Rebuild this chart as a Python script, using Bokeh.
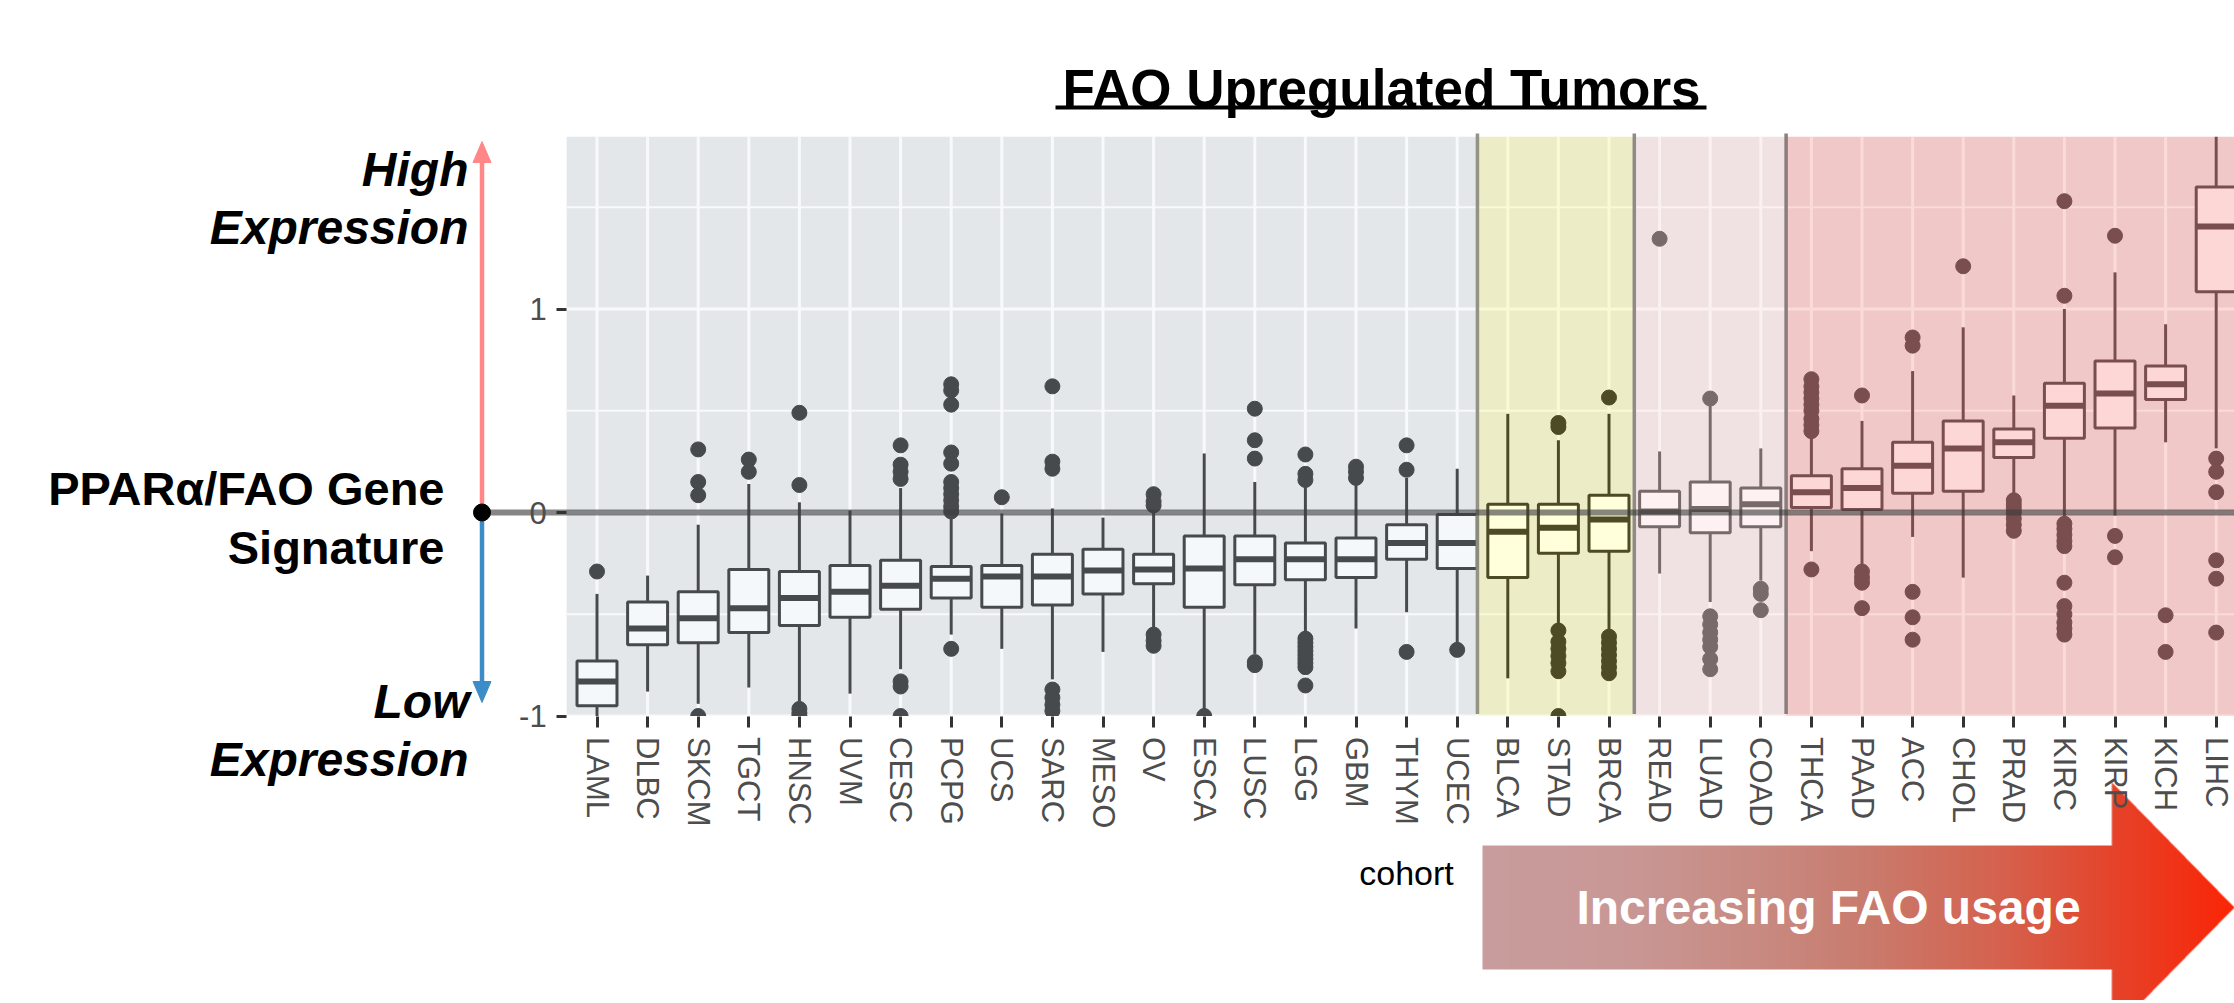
import numpy as np
from bokeh.plotting import figure
from bokeh.models import Range1d, LinearAxis, FixedTicker, ColumnDataSource
from bokeh.core.properties import value
from bokeh.embed import file_html
from bokeh.resources import INLINE

# ---------------- data ----------------
cohorts = ["LAML", "DLBC", "SKCM", "TGCT", "HNSC", "UVM", "CESC", "PCPG", "UCS",
           "SARC", "MESO", "OV", "ESCA", "LUSC", "LGG", "GBM", "THYM", "UCEC",
           "BLCA", "STAD", "BRCA", "READ", "LUAD", "COAD",
           "THCA", "PAAD", "ACC", "CHOL", "PRAD", "KIRC", "KIRP", "KICH", "LIHC"]
region = [0] * 18 + [1] * 3 + [2] * 3 + [3] * 9

q1 = [-0.95, -0.65, -0.64, -0.59, -0.555, -0.515, -0.475, -0.42, -0.465, -0.455,
      -0.40, -0.35, -0.465, -0.355, -0.33, -0.32, -0.23, -0.275,
      -0.32, -0.20, -0.19, -0.07, -0.10, -0.07,
      0.025, 0.015, 0.095, 0.105, 0.27, 0.365, 0.415, 0.555, 1.085]
median = [-0.83, -0.57, -0.52, -0.47, -0.42, -0.39, -0.36, -0.325, -0.315, -0.315,
          -0.285, -0.28, -0.275, -0.23, -0.23, -0.23, -0.15, -0.15,
          -0.095, -0.075, -0.035, 0.005, 0.017, 0.04,
          0.10, 0.12, 0.23, 0.315, 0.345, 0.525, 0.585, 0.63, 1.405]
q3 = [-0.73, -0.44, -0.39, -0.28, -0.29, -0.26, -0.235, -0.265, -0.26, -0.205,
      -0.18, -0.205, -0.115, -0.115, -0.15, -0.125, -0.06, -0.01,
      0.04, 0.04, 0.085, 0.105, 0.15, 0.12,
      0.18, 0.215, 0.345, 0.45, 0.41, 0.635, 0.745, 0.72, 1.60]
whisker_lo = [-1.10, -0.88, -0.94, -0.86, -0.93, -0.89, -0.77, -0.60, -0.67, -0.82,
              -0.685, -0.57, -0.98, -0.695, -0.60, -0.57, -0.49, -0.64,
              -0.815, -0.55, -0.59, -0.30, -0.44, -0.335,
              -0.19, -0.26, -0.12, -0.32, 0.08, -0.035, -0.015, 0.345, 0.315]
whisker_hi = [-0.40, -0.31, -0.06, 0.14, 0.05, 0.01, 0.12, -0.025, -0.005, 0.02,
              -0.025, 0.005, 0.29, 0.15, 0.13, 0.135, 0.17, 0.215,
              0.485, 0.355, 0.485, 0.30, 0.53, 0.315,
              0.37, 0.45, 0.695, 0.91, 0.575, 1.00, 1.18, 0.925, 2.10]
outliers = [
    [-0.29],
    [],
    [0.31, 0.15, 0.085, -1.0],
    [0.26, 0.20],
    [0.49, 0.135, -0.965, -0.985, -1.0],
    [],
    [0.33, 0.235, 0.20, 0.165, -0.83, -0.855, -1.0],
    [0.63, 0.60, 0.53, 0.295, 0.24, 0.15, 0.12, 0.09, 0.06, 0.03, 0.005, -0.67],
    [0.075],
    [0.62, 0.25, 0.215, -0.87, -0.91, -0.945, -0.975],
    [],
    [0.09, 0.055, 0.035, -0.60, -0.63, -0.655],
    [-1.0],
    [0.51, 0.355, 0.265, -0.735, -0.75],
    [0.285, 0.19, 0.16, -0.62, -0.64, -0.66, -0.68, -0.70, -0.72, -0.74, -0.76, -0.85],
    [0.225, 0.20, 0.17],
    [0.33, 0.21, -0.685],
    [-0.675],
    [],
    [0.44, 0.42, -0.58, -0.635, -0.67, -0.705, -0.74, -0.78, -1.0],
    [0.565, -0.61, -0.64, -0.67, -0.70, -0.73, -0.76, -0.79],
    [1.345],
    [0.56, -0.51, -0.55, -0.59, -0.625, -0.66, -0.72, -0.77],
    [-0.375, -0.40, -0.48],
    [0.655, 0.62, 0.59, 0.56, 0.53, 0.50, 0.46, 0.43, 0.40, -0.28],
    [0.575, -0.29, -0.32, -0.345, -0.47],
    [0.86, 0.82, -0.39, -0.515, -0.625],
    [1.21],
    [0.06, 0.04, 0.02, 0.0, -0.03, -0.06, -0.09],
    [1.53, 1.065, -0.055, -0.08, -0.11, -0.14, -0.165, -0.345, -0.46, -0.50, -0.54, -0.57, -0.60],
    [1.36, -0.115, -0.22],
    [-0.505, -0.685],
    [0.265, 0.20, 0.10, -0.235, -0.325, -0.59],
]
y_major = [-1, 0, 1]
y_major_labels = ["-1", "0", "1"]
y_minor = [-0.5, 0.5, 1.5]
y_limits = (-1.0, 1.848)

n = len(cohorts)
assert all(len(a) == n for a in (region, q1, median, q3, whisker_lo, whisker_hi, outliers))

# ---------------- styles ----------------
REGION_BG = ["#E4E7EA", "#ECECC6", "#F0E2E2", "#F0C8C8"]
REGION_GRID = ["#F7F9FB", "#FAFAD6", "#FBF1F1", "#FBDADA"]
REGION_FILL = ["#F5F8FB", "#FFFFDC", "#FEF1F1", "#FDD6D6"]
REGION_LINE = ["#474A4D", "#4D4A26", "#786A6A", "#7A4E4E"]
REGION_EDGE = [None, "#8E8E80", "#8C8484", "#857878"]
REGION_SHIFT = [-0.6, -0.6, -0.5, -0.5]
FONT = value("Liberation Sans")

W, H = 2234, 1000
SX, SY = 50.6, 203.5       # pixels per category / per unit
X0, Y0 = 596.5, 512.0      # pixel position of first category / of zero
BASE_FIX = 0.22            # baseline correction (fraction of font size)


def X(px):
    return (px - X0) / SX


def Y(py):
    return (Y0 - py) / SY


def TY(baseline_px, size):
    return Y(baseline_px - BASE_FIX * size)


p = figure(width=W, height=H,
           x_range=Range1d(X(0), X(W)), y_range=Range1d(Y(H), Y(0)),
           x_axis_type=None, y_axis_type=None, toolbar_location=None,
           output_backend="svg", min_border=0, outline_line_color=None,
           background_fill_color="white", border_fill_color="white")

# ---------------- panel backgrounds and grid ----------------
xs = np.arange(n)
reg = np.array(region)
panel_right = n - 1 + 0.6
lefts, rights = [], []
for r in range(4):
    idx = np.where(reg == r)[0]
    lefts.append(idx[0] + REGION_SHIFT[r])
for r in range(4):
    rights.append(lefts[r + 1] if r < 3 else panel_right)

p.quad(left=lefts, right=rights, bottom=y_limits[0], top=y_limits[1],
       fill_color=REGION_BG, line_color=None, level="underlay")

for r in range(4):
    p.segment(x0=[lefts[r]] * len(y_minor), x1=[rights[r]] * len(y_minor),
              y0=y_minor, y1=y_minor, line_color=REGION_GRID[r], line_width=1.8,
              level="underlay")
    p.segment(x0=[lefts[r]] * len(y_major), x1=[rights[r]] * len(y_major),
              y0=y_major, y1=y_major, line_color=REGION_GRID[r], line_width=3,
              level="underlay")
p.segment(x0=xs, x1=xs, y0=[y_limits[0]] * n, y1=[y_limits[1]] * n,
          line_color=[REGION_GRID[r] for r in region], line_width=3, level="underlay")

# ---------------- boxplots ----------------
hw = 0.395
src = ColumnDataSource(dict(
    x=xs, left=xs - hw, right=xs + hw,
    q1=q1, med=median, q3=q3,
    lo=np.maximum(whisker_lo, y_limits[0]), hi=np.minimum(whisker_hi, y_limits[1]),
    fill=[REGION_FILL[r] for r in region], line=[REGION_LINE[r] for r in region]))
p.segment(x0="x", x1="x", y0="q3", y1="hi", source=src, line_color="line",
          line_width=3, level="underlay")
p.segment(x0="x", x1="x", y0="q1", y1="lo", source=src, line_color="line",
          line_width=3, level="underlay")
p.quad(left="left", right="right", bottom="q1", top="q3", source=src,
       fill_color="fill", line_color="line", line_width=3, level="underlay")
p.segment(x0="left", x1="right", y0="med", y1="med", source=src,
          line_color="line", line_width=6, level="underlay")

ox, oy, oc = [], [], []
for i, vals in enumerate(outliers):
    for v in vals:
        ox.append(i)
        oy.append(v)
        oc.append(REGION_LINE[region[i]])
p.scatter(x=ox, y=oy, size=15, fill_color=oc, line_color=oc, level="underlay")

# white covers emulate clipping at the panel limits
p.quad(left=[X(555), X(555)], right=[X(2240), X(2240)],
       bottom=[y_limits[0] - 30 / SY, y_limits[1]],
       top=[y_limits[0], y_limits[1] + 22 / SY],
       fill_color="white", line_color=None, level="glyph")

# region boundary lines
p.segment(x0=lefts[1:], x1=lefts[1:], y0=[y_limits[0] + 2 / SY] * 3,
          y1=[Y(133)] * 3, line_color=REGION_EDGE[1:], line_width=3.5, line_alpha=0.95)

# zero reference line
xa = X(481.5)
p.segment(x0=[xa], x1=[X(2240)], y0=[0], y1=[0], line_color="#3C3C3C",
          line_alpha=0.62, line_width=6)

# ---------------- left expression arrow ----------------
p.segment(x0=[xa], x1=[xa], y0=[0], y1=[Y(158)], line_color="#FF8787", line_width=4.5)
p.patch(x=[xa - 9 / SX, xa, xa + 9 / SX], y=[Y(162), Y(141), Y(162)],
        fill_color="#FF8787", line_color="#FF8787")
p.segment(x0=[xa], x1=[xa], y0=[0], y1=[Y(684)], line_color="#3C8CC8", line_width=4.5)
p.patch(x=[xa - 9 / SX, xa, xa + 9 / SX], y=[Y(681), Y(702), Y(681)],
        fill_color="#3C8CC8", line_color="#3C8CC8")
p.scatter(x=[xa], y=[0], size=17, fill_color="black", line_color="black")

p.text(x=[X(468), X(468), X(469), X(468)],
       y=[TY(180, 48), TY(238, 48), TY(712, 48), TY(770, 48)],
       text=["High", "Expression", "Low", "Expression"],
       text_font=FONT, text_font_style="bold italic", text_font_size="48px",
       text_color="black", text_align="right", text_baseline="alphabetic")
p.text(x=[X(444), X(444)], y=[TY(498, 47), TY(557, 47)],
       text=["PPARα/FAO Gene", "Signature"],
       text_font=FONT, text_font_style="bold", text_font_size="47px",
       text_color="black", text_align="right", text_baseline="alphabetic")

# ---------------- title ----------------
p.text(x=[X(1381)], y=[TY(100, 53)], text=["FAO Upregulated Tumors"],
       text_font=FONT, text_font_style="bold", text_font_size="53px",
       text_color="black", text_align="center", text_baseline="alphabetic")
p.segment(x0=[X(1055)], x1=[X(1706)], y0=[Y(107)], y1=[Y(107)],
          line_color="black", line_width=4)

# ---------------- axis title ----------------
p.text(x=[X(1406)], y=[TY(880, 34)], text=["cohort"], text_font=FONT,
       text_font_size="34px", text_color="black", text_align="center",
       text_baseline="alphabetic")

# ---------------- gradient arrow (Increasing FAO usage) ----------------
ax0, ax1, ay0, ay1 = 1482, 2234, 782, 1034
body_top, body_bot, head_x, tip_y = 845, 969, 2111.5, 907
wi, hi_ = ax1 - ax0, ay1 - ay0
ss = 3
gx = ax0 + (np.arange(wi * ss) + 0.5) / ss
gy = ay0 + (np.arange(hi_ * ss) + 0.5) / ss
GX, GY = np.meshgrid(gx, gy)
in_body = (GX <= head_x) & (GY >= body_top) & (GY <= body_bot)
half = (ax1 - GX) * (tip_y - ay0) / (ax1 - head_x)
in_head = (GX >= head_x) & (np.abs(GY - tip_y) <= half)
cov = (in_body | in_head).astype(float).reshape(hi_, ss, wi, ss).mean(axis=(1, 3))
stop_x = [1482, 1624, 1769, 1865, 2009, 2105, 2201, 2234]
stop_r = [201, 200, 200, 201, 214, 228, 245, 252]
stop_g = [157, 152, 137, 124, 96, 70, 45, 38]
stop_b = [157, 150, 128, 110, 76, 45, 16, 6]
cx = ax0 + np.arange(wi) + 0.5
img = np.zeros((hi_, wi), dtype=np.uint32)
view = img.view(dtype=np.uint8).reshape((hi_, wi, 4))
view[:, :, 0] = np.interp(cx, stop_x, stop_r)[None, :].astype(np.uint8)
view[:, :, 1] = np.interp(cx, stop_x, stop_g)[None, :].astype(np.uint8)
view[:, :, 2] = np.interp(cx, stop_x, stop_b)[None, :].astype(np.uint8)
view[:, :, 3] = np.round(cov * 255).astype(np.uint8)
img = np.ascontiguousarray(np.flipud(img))
p.image_rgba(image=[img], x=X(ax0), y=Y(ay1), dw=wi / SX, dh=hi_ / SY)
p.text(x=[X(1828)], y=[TY(918, 48)], text=["Increasing FAO usage"], text_font=FONT,
       text_font_style="bold", text_font_size="48px", text_color="white",
       text_align="center", text_baseline="alphabetic")

# ---------------- axes ----------------
xaxis = LinearAxis(fixed_location=y_limits[0],
                   ticker=FixedTicker(ticks=list(range(n)), minor_ticks=[]),
                   major_label_overrides={i: c for i, c in enumerate(cohorts)},
                   major_label_orientation="vertical")
yaxis = LinearAxis(fixed_location=-0.6,
                   ticker=FixedTicker(ticks=y_major, minor_ticks=[]),
                   major_label_overrides={t: s for t, s in zip(y_major, y_major_labels)})
for ax in (xaxis, yaxis):
    ax.axis_line_color = None
    ax.major_tick_line_color = "#333333"
    ax.major_tick_line_width = 3
    ax.major_tick_in = 0
    ax.minor_tick_line_color = None
    ax.major_label_text_font = "Liberation Sans"
    ax.major_label_text_font_size = "31px"
    ax.major_label_text_color = "#4D4D4D"
xaxis.major_tick_out = 11
xaxis.major_label_standoff = 10
yaxis.major_tick_out = 10
yaxis.major_label_standoff = 10
p.add_layout(xaxis, "below")
p.add_layout(yaxis, "left")

open("out.html", "w").write(file_html(p, INLINE))
